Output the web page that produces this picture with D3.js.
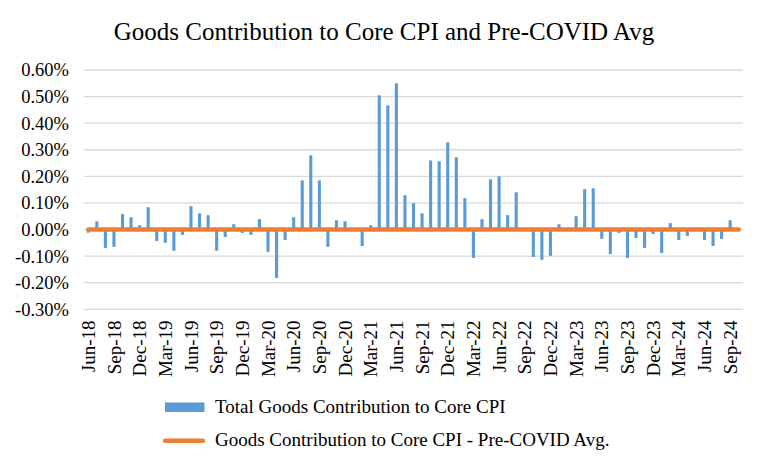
<!DOCTYPE html>
<html>
<head>
<meta charset="utf-8">
<script src="https://cdn.jsdelivr.net/npm/d3@7"></script>
<style>
  html, body { margin: 0; padding: 0; background: #fff; }
  svg { display: block; font-family: "Liberation Serif", "Times New Roman", serif; }
</style>
</head>
<body>
<svg id="chart" width="767" height="466"></svg>
<script>
// Months Jun-18 .. Oct-24
const monthNames = ["Jan","Feb","Mar","Apr","May","Jun","Jul","Aug","Sep","Oct","Nov","Dec"];
const months = [];
for (let yr = 2018, m = 5; !(yr === 2024 && m === 10); ) {
  months.push(monthNames[m] + "-" + String(yr).slice(2));
  m++; if (m === 12) { m = 0; yr++; }
}
// Total goods contribution to core CPI (fraction, e.g. 0.005 = 0.50%)
const goodsContribution = [
  -0.00012, 0.00031, -0.00069, -0.00065, 0.00058, 0.00046, 0.00016, 0.00084, -0.00043, -0.00050, -0.00080, -0.00020,
  0.00088, 0.00061, 0.00054, -0.00080, -0.00028, 0.00020, -0.00013, -0.00020, 0.00039, -0.00084, -0.00182, -0.00039,
  0.00046, 0.00185, 0.00279, 0.00185, -0.00065, 0.00035, 0.00031, 0.00000, -0.00062, 0.00016, 0.00505, 0.00467,
  0.00550, 0.00129, 0.00099, 0.00061, 0.00260, 0.00257, 0.00328, 0.00272, 0.00118, -0.00107, 0.00039, 0.00189,
  0.00200, 0.00054, 0.00140, 0.00000, -0.00103, -0.00114, -0.00099, 0.00020, 0.00000, 0.00050, 0.00152, 0.00155,
  -0.00035, -0.00092, -0.00013, -0.00107, -0.00032, -0.00069, -0.00017, -0.00088, 0.00024, -0.00039, -0.00024, 0.00000,
  -0.00039, -0.00062, -0.00035, 0.00035, null
];
// Pre-COVID average goods contribution (flat reference line)
const preCovidAvg = months.map(() => 0.0);
const yTicks = [-0.003, -0.002, -0.001, 0, 0.001, 0.002, 0.003, 0.004, 0.005, 0.006];
const tickMonths = months.filter((d, i) => i % 3 === 0 && i < 76);

const title = "Goods Contribution to Core CPI and Pre-COVID Avg";
const legendBar = "Total Goods Contribution to Core CPI";
const legendLine = "Goods Contribution to Core CPI - Pre-COVID Avg.";

const svg = d3.select("#chart");
const plotLeft = 84, plotRight = 743, plotTop = 70, plotBottom = 309.3;

const x = d3.scaleBand().domain(months).range([plotLeft, plotRight]).paddingInner(0.64).paddingOuter(0.32);
const y = d3.scaleLinear().domain([-0.003, 0.006]).range([plotBottom, plotTop]);

// Title
svg.append("text")
  .attr("x", 384).attr("y", 39.5)
  .attr("text-anchor", "middle")
  .attr("font-size", 25)
  .attr("fill", "#000")
  .text(title);

// Gridlines
svg.append("g").selectAll("line").data(yTicks).join("line")
  .attr("x1", plotLeft).attr("x2", plotRight)
  .attr("y1", d => y(d)).attr("y2", d => y(d))
  .attr("stroke", "#d9d9d9").attr("stroke-width", 1.3);

// Y axis labels (plain hyphen minus as in the original)
const locale = d3.formatLocale({decimal: ".", thousands: ",", grouping: [3], currency: ["$", ""], minus: "-"});
const fmt = locale.format(".2%");
svg.append("g").selectAll("text").data(yTicks).join("text")
  .attr("x", 69).attr("y", d => y(d))
  .attr("dy", "0.35em")
  .attr("text-anchor", "end")
  .attr("font-size", 18.5)
  .attr("fill", "#000")
  .text(d => fmt(d));

// Bars
svg.append("g").selectAll("rect").data(months.map((m, i) => ({m, v: goodsContribution[i]})).filter(d => d.v !== null))
  .join("rect")
  .attr("x", d => x(d.m))
  .attr("width", x.bandwidth())
  .attr("y", d => y(Math.max(0, d.v)))
  .attr("height", d => Math.abs(y(d.v) - y(0)))
  .attr("fill", "#5b9bd5");

// Pre-COVID average line
const line = d3.line().x((d, i) => x(months[i]) + x.bandwidth() / 2).y(d => y(d));
svg.append("path")
  .datum(preCovidAvg)
  .attr("d", line)
  .attr("fill", "none")
  .attr("stroke", "#ed7d31")
  .attr("stroke-width", 4.5)
  .attr("stroke-linecap", "round");

// X tick labels
svg.append("g").selectAll("text").data(tickMonths).join("text")
  .attr("transform", d => `translate(${x(d) + x.bandwidth() / 2},320.5) rotate(-90)`)
  .attr("dy", "0.35em")
  .attr("text-anchor", "end")
  .attr("font-size", 19)
  .attr("fill", "#000")
  .text(d => d);

// Legend
const lg = svg.append("g");
lg.append("rect").attr("x", 165).attr("y", 402.5).attr("width", 39.5).attr("height", 9.5).attr("fill", "#5b9bd5");
lg.append("text").attr("x", 215).attr("y", 413).attr("font-size", 19).attr("fill", "#000").text(legendBar);
lg.append("line").attr("x1", 165).attr("x2", 203).attr("y1", 440.7).attr("y2", 440.7)
  .attr("stroke", "#ed7d31").attr("stroke-width", 4.5).attr("stroke-linecap", "round");
lg.append("text").attr("x", 215).attr("y", 446).attr("font-size", 19).attr("fill", "#000").text(legendLine);
</script>
</body>
</html>
